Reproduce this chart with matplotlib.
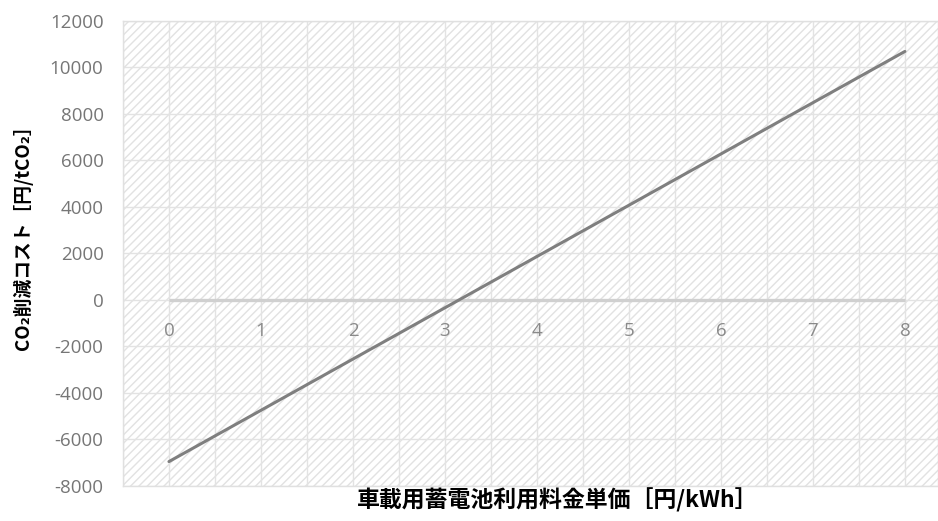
import matplotlib.pyplot as plt
import numpy as np

plt.rcParams['font.family'] = ['Noto Sans CJK JP', 'DejaVu Sans']

# values
price = [0, 1, 2, 3, 4, 5, 6, 7, 8]
cost = [-6950, -4745, -2540, -335, 1870, 4075, 6280, 8485, 10690]
zero_line = [0, 0, 0, 0, 0, 0, 0, 0, 0]
x_labels = ['0', '1', '2', '3', '4', '5', '6', '7', '8']
y_ticks = [-8000, -6000, -4000, -2000, 0, 2000, 4000, 6000, 8000, 10000, 12000]

fig = plt.figure(figsize=(9.38, 5.21), dpi=100)
ax = fig.add_axes([0.1311, 0.0672, 0.8689, 0.8925])

plt.rcParams['hatch.linewidth'] = 0.7
ax.patch.set_facecolor('white')
ax.patch.set_hatch('////')
ax.patch.set_edgecolor('#e2e2e2')

ax.set_xlim(-0.5, 8.36)
ax.set_ylim(-8000, 12000)

# grid
for gx in np.arange(-0.5, 8.5, 0.5):
    ax.axvline(gx, color='#e3e3e3', lw=1.0, zorder=1)
for gy in y_ticks:
    ax.axhline(gy, color='#e3e3e3', lw=1.0, zorder=1)

ax.plot(price, zero_line, color='#d0d0d0', lw=2.4, zorder=2, solid_capstyle='butt')
ax.plot(price, cost, color='#7f7f7f', lw=2.2, zorder=3, solid_capstyle='round')

ax.set_xticks([])
ax.set_yticks(y_ticks)
ax.set_yticklabels([str(v) for v in y_ticks], color='#767676', fontsize=13.5,
                   family='Open Sans')
ax.tick_params(axis='y', length=0, pad=14)

for x, lbl in zip(price, x_labels):
    ax.annotate(lbl, (x, 0), xytext=(0, -22), textcoords='offset points',
                ha='center', va='center', color='#8a8a8a', fontsize=13.5,
                family='Open Sans')

for s in ax.spines.values():
    s.set_color('#e0e0e0')
    s.set_linewidth(1.0)

fig.text(0.024, 0.553, 'CO₂削減コスト［円/tCO₂］', rotation=90, ha='center', va='center',
         fontsize=13.5, color='black', fontweight='bold')
fig.text(0.595, 0.040, '車載用蓄電池利用料金単価［円/kWh］', ha='center', va='center',
         fontsize=16.5, color='black', fontweight='bold')

fig.savefig('out.png', dpi=100)
